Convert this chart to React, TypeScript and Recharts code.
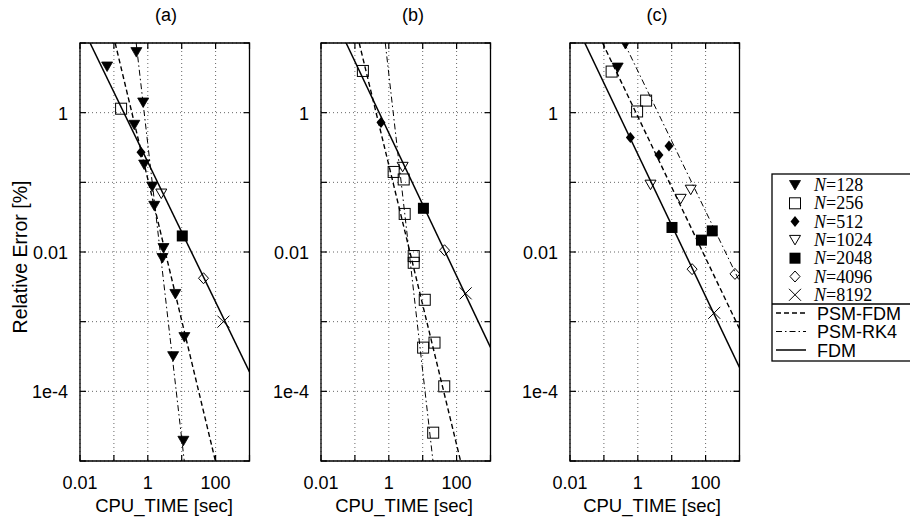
import React from 'react';
import { ScatterChart, Scatter, XAxis, YAxis, CartesianGrid, ReferenceArea } from 'recharts';

type Pt = { t: number; e: number };

// ---- axis ticks & labels ----
const xTicks = [0.01, 0.1, 1, 10, 100, 1000];
const xTickLabels = ['0.01', '', '1', '', '100', ''];
const yTicks = [1e-5, 1e-4, 1e-3, 0.01, 0.1, 1, 10];
const yTickLabels = ['', '1e-4', '', '0.01', '', '1', ''];
const panelTitles = ['(a)', '(b)', '(c)'];
const xLabel = 'CPU_TIME [sec]';
const yLabel = 'Relative Error [%]';
const nLabels = ['128', '256', '512', '1024', '2048', '4096', '8192'];
const methodLabels = ['PSM-FDM', 'PSM-RK4', 'FDM'];

// ---- panel (a) ----
const a128: Pt[] = [
  { t: 0.063, e: 4.6 }, { t: 0.46, e: 7.4 }, { t: 0.73, e: 1.4 }, { t: 0.4, e: 0.67 },
  { t: 0.78, e: 0.18 }, { t: 1.35, e: 0.087 }, { t: 1.55, e: 0.046 }, { t: 2.9, e: 0.0114 },
  { t: 2.7, e: 0.0082 }, { t: 6.5, e: 0.0025 }, { t: 12, e: 0.0006 }, { t: 5.6, e: 0.00032 },
  { t: 11.2, e: 1.95e-5 },
];
const a256: Pt[] = [{ t: 0.163, e: 1.14 }];
const a512: Pt[] = [{ t: 0.63, e: 0.27 }];
const a1024: Pt[] = [{ t: 2.5, e: 0.069 }];
const a2048: Pt[] = [{ t: 10.4, e: 0.017 }];
const a4096: Pt[] = [{ t: 44, e: 0.0042 }];
const a8192: Pt[] = [{ t: 170, e: 0.001 }];
const aFDM: Pt[] = [{ t: 0.0198, e: 10 }, { t: 1000, e: 1.9e-4 }];
const aPSMFDM: Pt[] = [{ t: 0.109, e: 10 }, { t: 98.6, e: 1e-5 }];
const aPSMRK4: Pt[] = [{ t: 0.454, e: 10 }, { t: 11.9, e: 1e-5 }];

// ---- panel (b) ----
const b128: Pt[] = [];
const b256: Pt[] = [
  { t: 0.172, e: 3.97 }, { t: 1.39, e: 0.141 }, { t: 2.94, e: 0.0352 }, { t: 5.43, e: 0.00875 },
  { t: 11.5, e: 0.00206 }, { t: 22.3, e: 0.0005 }, { t: 43.2, e: 0.000118 }, { t: 2.75, e: 0.11 },
  { t: 5.43, e: 0.007 }, { t: 10.3, e: 0.000424 }, { t: 20.4, e: 2.55e-5 },
];
const b512: Pt[] = [{ t: 0.588, e: 0.723 }];
const b1024: Pt[] = [{ t: 2.56, e: 0.167 }];
const b2048: Pt[] = [{ t: 10.5, e: 0.0424 }];
const b4096: Pt[] = [{ t: 44.1, e: 0.0106 }];
const b8192: Pt[] = [{ t: 185, e: 0.00255 }];
const bFDM: Pt[] = [{ t: 0.0551, e: 10 }, { t: 1000, e: 4.26e-4 }];
const bPSMFDM: Pt[] = [{ t: 0.134, e: 10 }, { t: 131, e: 1e-5 }];
const bPSMRK4: Pt[] = [{ t: 0.787, e: 10 }, { t: 20.1, e: 1e-5 }];

// ---- panel (c) ----
const c128: Pt[] = [{ t: 0.429, e: 9.68 }, { t: 0.255, e: 4.44 }];
const c256: Pt[] = [{ t: 0.169, e: 3.89 }, { t: 1.76, e: 1.49 }, { t: 0.953, e: 1.04 }];
const c512: Pt[] = [{ t: 0.603, e: 0.439 }, { t: 8.31, e: 0.332 }, { t: 4.2, e: 0.246 }];
const c1024: Pt[] = [{ t: 2.37, e: 0.0926 }, { t: 36.4, e: 0.0784 }, { t: 18.4, e: 0.058 }];
const c2048: Pt[] = [{ t: 10.2, e: 0.0225 }, { t: 157, e: 0.0201 }, { t: 75.5, e: 0.0148 }];
const c4096: Pt[] = [{ t: 40, e: 0.00567 }, { t: 735, e: 0.00485 }];
const c8192: Pt[] = [{ t: 180, e: 0.00134 }];
const cFDM: Pt[] = [{ t: 0.0273, e: 10 }, { t: 1000, e: 2.2e-4 }];
const cPSMFDM: Pt[] = [{ t: 0.0915, e: 10 }, { t: 1000, e: 7.9e-4 }];
const cPSMRK4: Pt[] = [{ t: 0.4, e: 10 }, { t: 1000, e: 0.0038 }];

const markerKinds = ['triF', 'sqO', 'diaF', 'triO', 'sqF', 'diaO', 'x'];
const lineStyles = [
  { strokeDasharray: '5 3', strokeWidth: 1.4 },
  { strokeDasharray: '6 3 1.5 3', strokeWidth: 1 },
  { strokeDasharray: undefined, strokeWidth: 1.5 },
];

const panels = [
  { left: 0, sets: [a128, a256, a512, a1024, a2048, a4096, a8192], lines: [aPSMFDM, aPSMRK4, aFDM] },
  { left: 241, sets: [b128, b256, b512, b1024, b2048, b4096, b8192], lines: [bPSMFDM, bPSMRK4, bFDM] },
  { left: 489.5, sets: [c128, c256, c512, c1024, c2048, c4096, c8192], lines: [cPSMFDM, cPSMRK4, cFDM] },
];

const SANS = '"Liberation Sans", Arial, sans-serif';
const SERIF = '"Liberation Serif", "Times New Roman", serif';
const PLOT_W = 169.5;
const PLOT_H = 418;

function Marker({ kind, cx, cy }: { kind: string; cx: number; cy: number }) {
  const k = '#000';
  switch (kind) {
    case 'triF':
      return <path d={`M${cx - 5.5},${cy - 4.5}L${cx + 5.5},${cy - 4.5}L${cx},${cy + 5}Z`} fill={k} stroke={k} strokeWidth={0.8} />;
    case 'triO':
      return <path d={`M${cx - 5.5},${cy - 4.5}L${cx + 5.5},${cy - 4.5}L${cx},${cy + 5}Z`} fill="none" stroke={k} strokeWidth={1} />;
    case 'sqO':
      return <rect x={cx - 5.5} y={cy - 5.5} width={11} height={11} fill="none" stroke={k} strokeWidth={1} />;
    case 'sqF':
      return <rect x={cx - 5.5} y={cy - 5.5} width={11} height={11} fill={k} />;
    case 'diaF':
      return <path d={`M${cx},${cy - 5.5}L${cx + 4.5},${cy}L${cx},${cy + 5.5}L${cx - 4.5},${cy}Z`} fill={k} />;
    case 'diaO':
      return <path d={`M${cx},${cy - 5.5}L${cx + 5},${cy}L${cx},${cy + 5.5}L${cx - 5},${cy}Z`} fill="none" stroke={k} strokeWidth={1} />;
    default:
      return (
        <g stroke={k} strokeWidth={1}>
          <line x1={cx - 6} y1={cy - 6} x2={cx + 6} y2={cy + 6} />
          <line x1={cx - 6} y1={cy + 6} x2={cx + 6} y2={cy - 6} />
        </g>
      );
  }
}

function idxOf(arr: number[], v: number) {
  let best = 0;
  for (let i = 0; i < arr.length; i++) {
    if (Math.abs(Math.log10(arr[i]) - Math.log10(v)) < Math.abs(Math.log10(arr[best]) - Math.log10(v))) best = i;
  }
  return best;
}

function XTick(props: any) {
  const { x, y, payload } = props;
  const label = xTickLabels[idxOf(xTicks, payload.value)];
  return (
    <g>
      <line x1={x} y1={y} x2={x} y2={y - 6} stroke="#000" strokeWidth={1.2} />
      <line x1={x} y1={y - PLOT_H} x2={x} y2={y - PLOT_H + 6} stroke="#000" strokeWidth={1.2} />
      <text x={x} y={y + 27.5} textAnchor="middle" fontSize={18} fontFamily={SANS} fill="#000">{label}</text>
    </g>
  );
}

function YTick(props: any) {
  const { x, y, payload } = props;
  const label = yTickLabels[idxOf(yTicks, payload.value)];
  return (
    <g>
      <line x1={x} y1={y} x2={x + 6} y2={y} stroke="#000" strokeWidth={1.2} />
      <line x1={x + PLOT_W - 6} y1={y} x2={x + PLOT_W} y2={y} stroke="#000" strokeWidth={1.2} />
      <text x={x - 12} y={y + 7} textAnchor="end" fontSize={18} fontFamily={SANS} fill="#000">{label}</text>
    </g>
  );
}

function Panel({ left, sets, lines }: { left: number; sets: Pt[][]; lines: Pt[][] }) {
  return (
    <div style={{ position: 'absolute', left, top: 0 }}>
      <ScatterChart width={260} height={524} margin={{ top: 43, right: 10.5, bottom: 33, left: 20 }}>
        <CartesianGrid stroke="#666" strokeDasharray="1 3" strokeWidth={1} />
        <XAxis type="number" dataKey="t" scale="log" domain={[0.01, 1000]} ticks={xTicks} interval={0}
          allowDataOverflow axisLine={false} tickLine={false} tickSize={0} tickMargin={0} height={30} tick={XTick} />
        <YAxis type="number" dataKey="e" scale="log" domain={[1e-5, 10]} ticks={yTicks} interval={0}
          allowDataOverflow axisLine={false} tickLine={false} tickSize={0} tickMargin={0} width={60} tick={YTick} />
        <ReferenceArea x1={0.01} x2={1000} y1={1e-5} y2={10} fill="none" stroke="#000" strokeWidth={1.3} ifOverflow="visible" />
        {lines.map((ln, i) => (
          <Scatter key={'l' + i} data={ln} isAnimationActive={false} fill="#000"
            line={{ stroke: '#000', strokeWidth: lineStyles[i].strokeWidth, strokeDasharray: lineStyles[i].strokeDasharray }}
            lineType="joint" shape={() => <g />} />
        ))}
        {sets.map((s, i) => (
          <Scatter key={'m' + i} data={s} isAnimationActive={false} fill="#000"
            shape={(p: any) => <Marker kind={markerKinds[i]} cx={p.cx} cy={p.cy} />} />
        ))}
      </ScatterChart>
    </div>
  );
}

const titleX = [166, 413, 657];
const xLabelX = [164, 404, 652];

function Overlay() {
  const rowY = nLabels.map((_, i) => 185 + i * 18.3);
  const mY = [313, 331.5, 350];
  return (
    <svg width={910} height={524} style={{ position: 'absolute', left: 0, top: 0, pointerEvents: 'none' }}>
      {panelTitles.map((t, i) => (
        <text key={t} x={titleX[i]} y={21} textAnchor="middle" fontSize={18} fontFamily={SANS}>{t}</text>
      ))}
      {xLabelX.map((x, i) => (
        <text key={i} x={x} y={512} textAnchor="middle" fontSize={18.5} fontFamily={SANS}>{xLabel}</text>
      ))}
      <text x={27} y={257} transform="rotate(-90 27 257)" textAnchor="middle" fontSize={19.5} fontFamily={SANS}>{yLabel}</text>
      <rect x={772} y={174} width={150} height={187} fill="none" stroke="#000" strokeWidth={1.3} />
      <line x1={772} y1={304} x2={910} y2={304} stroke="#000" strokeWidth={1.3} />
      {nLabels.map((n, i) => (
        <g key={n}>
          <Marker kind={markerKinds[i]} cx={795} cy={rowY[i]} />
          <text x={814} y={rowY[i] + 6} fontSize={18} fontFamily={SERIF}>
            <tspan fontStyle="italic">N</tspan>={n}
          </text>
        </g>
      ))}
      {methodLabels.map((m, i) => (
        <g key={m}>
          <line x1={776} y1={mY[i]} x2={806} y2={mY[i]} stroke="#000"
            strokeWidth={lineStyles[i].strokeWidth} strokeDasharray={lineStyles[i].strokeDasharray} />
          <text x={817} y={mY[i] + 6.5} fontSize={18} fontFamily={SANS}>{m}</text>
        </g>
      ))}
    </svg>
  );
}

export default function App() {
  return (
    <div style={{ position: 'absolute', left: 0, top: 0, width: 910, height: 524, background: '#fff', overflow: 'hidden' }}>
      {panels.map((p, i) => (
        <Panel key={i} left={p.left} sets={p.sets} lines={p.lines} />
      ))}
      <Overlay />
    </div>
  );
}
